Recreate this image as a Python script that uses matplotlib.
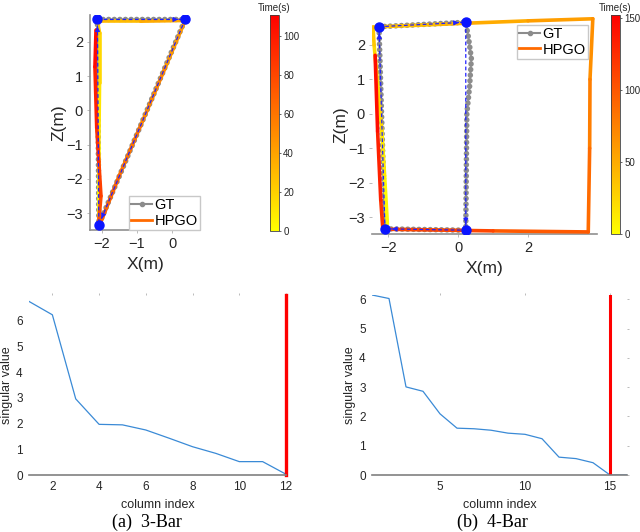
import matplotlib
matplotlib.use("Agg")
import matplotlib.pyplot as plt
import numpy as np
from matplotlib.collections import LineCollection
from matplotlib.lines import Line2D
from matplotlib.cm import ScalarMappable
from matplotlib.colors import Normalize

plt.rcParams['font.family'] = ['Liberation Sans', 'DejaVu Sans']

# ---------- data: (a) 3-Bar trajectory ----------
gt_a_x = [-2.12, 0.36, -2.08, -2.12]
gt_a_z = [2.65, 2.65, -3.34, 2.65]
key_a_x = [-2.12, 0.36, -2.08]
key_a_z = [2.65, 2.65, -3.34]
hpgo_a_x = [-2.08, -2.08, -2.06, -2.06, -2.12, -0.9, 0.36, -0.2, -0.9, -1.5, -2.02, -2.1, -2.02, -2.08, -2.14, -2.19, -2.16]
hpgo_a_z = [-3.3, -1.0, 0.8, 2.25, 2.6, 2.6, 2.62, 1.25, -0.45, -1.9, -3.25, -3.45, -2.5, -1.5, -0.5, 1.27, 2.34]
hpgo_a_t = [0, 8, 14, 20, 26, 33, 40, 48, 57, 64, 71, 75, 80, 86, 92, 102, 111]

# ---------- data: (b) 4-Bar trajectory ----------
gt_b_x = [-2.26, 0.22, 0.3, 0.38, 0.33, 0.25, 0.22, -2.09, -2.26]
gt_b_z = [2.53, 2.66, 2.2, 1.6, 0.8, 0.0, -3.38, -3.34, 2.53]
key_b_x = [-2.26, 0.22, 0.22, -2.09]
key_b_z = [2.53, 2.66, -3.38, -3.34]
hpgo_b_x = [-2.02, -2.1, -2.18, -2.4, -2.43, -0.5, 0.2, 2.0, 3.85, 3.77, 3.76, 3.72, 1.0, -2.15, -2.21, -2.3, -2.37]
hpgo_b_z = [-3.2, -1.8, -0.47, 2.0, 2.52, 2.6, 2.63, 2.7, 2.76, 1.0, -1.0, -3.43, -3.4, -3.35, -2.5, -0.5, 1.7]
hpgo_b_t = [0, 8, 16, 30, 36, 42, 46, 54, 62, 72, 82, 94, 104, 116, 126, 138, 150]

# ---------- data: singular values ----------
sv_a = [6.75, 6.23, 2.96, 1.97, 1.95, 1.75, 1.43, 1.1, 0.84, 0.52, 0.52, 0.03]
sv_b = [6.15, 6.03, 3.01, 2.86, 2.09, 1.6, 1.58, 1.53, 1.43, 1.39, 1.24, 0.61, 0.56, 0.42, 0.0, 0.0]
null_a = 12
null_b = 15

W, H = 640, 532
fig = plt.figure(figsize=(6.4, 5.32), dpi=100)


def box(l, t, r, b):
    return [l / W, 1 - b / H, (r - l) / W, (b - t) / H]


cmap = plt.get_cmap('autumn_r')
txt = '#262626'


def traj(ax, gx, gz, kx, kz, hx, hz, ht, vmax):
    # ground truth: gray line with dense dots
    ax.plot(gx, gz, color='#a0a0a0', lw=1.4, zorder=2)
    ax.plot(gx, gz, color='#8c8c8c', lw=4.0, ls=(0, (0.01, 1.0)),
            dash_capstyle='round', zorder=2)
    # HPGO coloured by time
    pts = np.column_stack([hx, hz])
    segs = np.stack([pts[:-1], pts[1:]], axis=1)
    tt = np.asarray(ht, float)
    lc = LineCollection(segs, cmap=cmap, norm=Normalize(0, vmax), lw=2.6,
                        capstyle='round', joinstyle='round', zorder=3)
    lc.set_array((tt[:-1] + tt[1:]) / 2)
    ax.add_collection(lc)
    # keyframe links
    cx = list(kx) + [kx[0]]
    cz = list(kz) + [kz[0]]
    ax.plot(cx, cz, color='#2020ff', lw=0.9, ls=(0, (3, 2)), zorder=4)
    for i in range(len(kx)):
        x0, z0, x1, z1 = cx[i], cz[i], cx[i + 1], cz[i + 1]
        d = np.hypot(x1 - x0, z1 - z0)
        ux, uz = (x1 - x0) / d, (z1 - z0) / d
        tip = (x1 - 0.12 * ux, z1 - 0.12 * uz)
        tail = (x1 - 0.3 * ux, z1 - 0.3 * uz)
        ax.annotate('', xy=tip, xytext=tail,
                    arrowprops=dict(arrowstyle='-|>', color='#2020ff', lw=0.8,
                                    mutation_scale=7), zorder=5)
    ax.plot(kx, kz, 'o', color='#0a14ff', ms=6.5, zorder=6)


def style_traj(ax, left_spine):
    for s in ['top', 'right']:
        ax.spines[s].set_visible(False)
    ax.spines['left'].set_visible(left_spine)
    ax.spines['left'].set_color('#909090')
    ax.spines['bottom'].set_color('#909090')
    ax.spines['left'].set_linewidth(1.2)
    ax.spines['bottom'].set_linewidth(1.2)
    ax.tick_params(labelsize=10.5, colors=txt, length=2, width=0.6, pad=3)
    ax.tick_params(color='#b0b0b0')
    ax.set_xlabel('X(m)', fontsize=12.5, color=txt, labelpad=4)
    ax.set_ylabel('Z(m)', fontsize=12.5, color=txt, labelpad=0)


legend_handles = [
    Line2D([], [], color='#8c8c8c', lw=1.5, marker='.', ms=6),
    Line2D([], [], color='#ff6a00', lw=2),
]


def add_cbar(pos, vmax, ticks):
    cax = fig.add_axes(pos)
    cb = fig.colorbar(ScalarMappable(norm=Normalize(0, vmax), cmap=cmap), cax=cax)
    cb.set_ticks(ticks)
    cb.ax.tick_params(labelsize=7, colors=txt, length=1.5, width=0.5, pad=1.5)
    cb.outline.set_linewidth(0.6)
    cb.outline.set_edgecolor('#404040')
    cax.set_title('Time(s)', fontsize=7, color=txt, pad=3)


leg_kw = dict(fontsize=10.5, frameon=True, fancybox=False, edgecolor='#c8c8c8',
              borderpad=0.15, handlelength=1.4, handletextpad=0.2,
              labelspacing=0.1, borderaxespad=0.0, framealpha=1)

# (a) trajectory
ax1 = fig.add_axes(box(90, 15, 200, 230))
traj(ax1, gt_a_x, gt_a_z, key_a_x, key_a_z, hpgo_a_x, hpgo_a_z, hpgo_a_t, 111)
ax1.set_xlim(-2.33, 0.78)
ax1.set_ylim(-3.49, 2.78)
ax1.set_xticks([-2, -1, 0])
ax1.set_yticks([-3, -2, -1, 0, 1, 2])
style_traj(ax1, True)
ax1.legend(legend_handles, ['GT', 'HPGO'], loc='lower right', **leg_kw)
add_cbar(box(270, 15, 279, 231), 111, [0, 20, 40, 60, 80, 100])

# (b) trajectory
ax2 = fig.add_axes(box(372, 15, 597, 234))
traj(ax2, gt_b_x, gt_b_z, key_b_x, key_b_z, hpgo_b_x, hpgo_b_z, hpgo_b_t, 152)
ax2.set_xlim(-2.46, 3.97)
ax2.set_ylim(-3.49, 2.87)
ax2.set_xticks([-2, 0, 2])
ax2.set_yticks([-3, -2, -1, 0, 1, 2])
style_traj(ax2, False)
ax2.legend(legend_handles, ['GT', 'HPGO'], loc='upper right',
           bbox_to_anchor=(0.96, 0.955), **leg_kw)
add_cbar(box(611, 15, 620, 234), 152, [0, 50, 100, 150])


def style_sv(ax, right_ticks):
    for s in ['top', 'right', 'left']:
        ax.spines[s].set_visible(False)
    ax.spines['bottom'].set_color('#808080')
    ax.spines['bottom'].set_linewidth(1.2)
    ax.tick_params(labelsize=8.5, colors=txt, length=1.5, width=0.6, pad=3,
                   top=True, right=right_ticks, bottom=False, left=False)
    ax.tick_params(color='#b0b0b0')
    ax.set_xlabel('column index', fontsize=9, color=txt, labelpad=4)
    ax.set_ylabel('singular value', fontsize=9, color=txt, labelpad=2)


ax3 = fig.add_axes(box(29, 295, 286, 475))
ax3.plot(np.arange(1, len(sv_a) + 1), sv_a, color='#3a8ad6', lw=0.9)
ax3.axvline(null_a, color='#ff0000', lw=2.4, clip_on=False)
ax3.set_xlim(1, 12)
ax3.set_ylim(0, 7.0)
ax3.set_xticks([2, 4, 6, 8, 10, 12])
ax3.set_yticks(range(0, 7))
style_sv(ax3, False)

ax4 = fig.add_axes(box(372, 295, 627, 475))
ax4.plot(np.arange(1, len(sv_b) + 1), sv_b, color='#3a8ad6', lw=0.9)
ax4.axvline(null_b, color='#ff0000', lw=2.2)
ax4.set_xlim(1, 16)
ax4.set_ylim(0, 6.15)
ax4.set_xticks([5, 10, 15])
ax4.set_yticks(range(0, 7))
style_sv(ax4, True)

fig.text(147 / W, 1 - 522 / H, '(a)  3-Bar', family=['Liberation Serif', 'DejaVu Serif'],
         fontsize=13, ha='center', va='center', color='black')
fig.text(492 / W, 1 - 522 / H, '(b)  4-Bar', family=['Liberation Serif', 'DejaVu Serif'],
         fontsize=13, ha='center', va='center', color='black')

fig.savefig('out.png', dpi=100)
